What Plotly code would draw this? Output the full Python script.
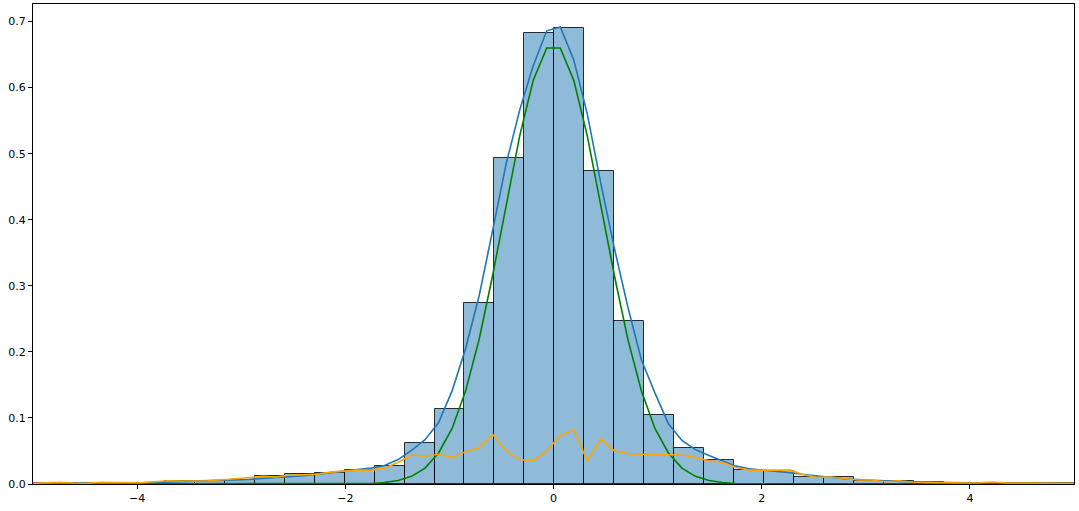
import numpy as np
import plotly.graph_objects as go

# histogram (density) - bins of equal width
bin_start = -5.169
bin_width = 0.2876
hist_vals = [0.001, 0.001, 0.001, 0.0015, 0.002, 0.004, 0.0045, 0.006, 0.0116, 0.0147,
             0.017, 0.021, 0.028, 0.0615, 0.114, 0.274, 0.493, 0.682, 0.690, 0.474,
             0.246, 0.105, 0.054, 0.036, 0.021, 0.020, 0.010, 0.010, 0.0045, 0.004,
             0.003, 0.002, 0.002, 0.001, 0.001, 0.001]

# curves sampled on a common grid over the visible range
grid_n = 78

kde_vals = [0.001, 0.001, 0.001, 0.001, 0.001, 0.0015, 0.0015, 0.002, 0.002, 0.0025,
            0.003, 0.0035, 0.004, 0.0045, 0.005, 0.006, 0.007, 0.0085, 0.0095, 0.011,
            0.0125, 0.015, 0.017, 0.020, 0.022, 0.024, 0.028, 0.037, 0.051, 0.067,
            0.093, 0.141, 0.205, 0.285, 0.384, 0.485, 0.566, 0.633, 0.686, 0.692,
            0.642, 0.560, 0.455, 0.357, 0.268, 0.188, 0.138, 0.091, 0.066, 0.052,
            0.043, 0.035, 0.027, 0.023, 0.021, 0.020, 0.017, 0.0145, 0.012, 0.010,
            0.008, 0.0068, 0.0058, 0.0045, 0.0038, 0.003, 0.0027, 0.0023, 0.002, 0.0018,
            0.0015, 0.0013, 0.0012, 0.001, 0.001, 0.001, 0.0008, 0.0008]

normal_vals = [0, 0, 0, 0, 0, 0, 0, 0, 0, 0,
               0, 0, 0, 0, 0, 0, 0, 0, 0, 0,
               0, 0, 0, 0.0001, 0.0003, 0.0008, 0.0022, 0.0052, 0.0116, 0.024,
               0.047, 0.084, 0.141, 0.219, 0.316, 0.423, 0.527, 0.611, 0.660, 0.660,
               0.611, 0.527, 0.423, 0.316, 0.219, 0.141, 0.084, 0.047, 0.024, 0.0116,
               0.0052, 0.0022, 0.0008, 0.0003, 0.0001, 0, 0, 0, 0, 0,
               0, 0, 0, 0, 0, 0, 0, 0, 0, 0,
               0, 0, 0, 0, 0, 0, 0, 0]

other_vals = [0.001, 0.0015, 0.0025, 0.0015, 0.001, 0.0025, 0.002, 0.002, 0.002, 0.0035,
              0.005, 0.0045, 0.0045, 0.005, 0.0065, 0.008, 0.010, 0.0115, 0.0105, 0.0135,
              0.014, 0.0148, 0.018, 0.0195, 0.021, 0.021, 0.024, 0.033, 0.044, 0.042,
              0.045, 0.040, 0.049, 0.055, 0.075, 0.050, 0.037, 0.035, 0.050, 0.073,
              0.082, 0.035, 0.068, 0.050, 0.046, 0.045, 0.045, 0.045, 0.044, 0.040,
              0.035, 0.033, 0.025, 0.021, 0.021, 0.0215, 0.021, 0.014, 0.010, 0.0105,
              0.008, 0.006, 0.006, 0.0035, 0.005, 0.003, 0.0025, 0.002, 0.002, 0.0015,
              0.002, 0.003, 0.0015, 0.0012, 0.001, 0.001, 0.001, 0.001]

x_grid = np.linspace(-5, 5, grid_n)
centers = bin_start + bin_width * (np.arange(len(hist_vals)) + 0.5)

fig = go.Figure()
fig.add_trace(go.Bar(x=centers, y=hist_vals, width=bin_width,
                     marker=dict(color='rgba(31,119,180,0.5)',
                                 line=dict(color='rgba(0,0,0,0.8)', width=1))))
fig.add_trace(go.Scatter(x=x_grid, y=kde_vals, mode='lines',
                         line=dict(color='#1f77b4', width=1.6)))
fig.add_trace(go.Scatter(x=x_grid, y=normal_vals, mode='lines',
                         line=dict(color='green', width=1.6)))
fig.add_trace(go.Scatter(x=x_grid, y=other_vals, mode='lines',
                         line=dict(color='orange', width=1.6)))

axis_style = dict(showline=True, mirror=True, linecolor='black', linewidth=1,
                  ticks='outside', ticklen=4, tickwidth=1, tickcolor='black',
                  showgrid=False, zeroline=False, automargin=False)

fig.update_layout(
    width=1079, height=511,
    margin=dict(l=33, r=5, t=4, b=27),
    plot_bgcolor='white', paper_bgcolor='white',
    showlegend=False, bargap=0,
    font=dict(family='DejaVu Sans', size=11, color='black'),
    xaxis=dict(range=[-5, 5], tickvals=[-4, -2, 0, 2, 4], **axis_style),
    yaxis=dict(range=[0, 0.7266], dtick=0.1, tickformat='.1f', **axis_style),
)

# the page body has a default margin, drop it so the figure sits at the corner
fig.write_html("out.html", config={'displayModeBar': False},
               post_script="document.body.style.margin='0';")
